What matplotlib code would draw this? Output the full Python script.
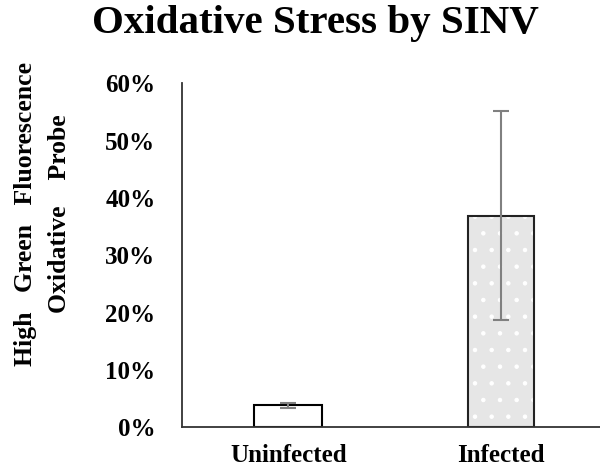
import matplotlib.pyplot as plt
from matplotlib.ticker import PercentFormatter

groups = ['Uninfected', 'Infected']
means = [3.8, 36.9]
errors = [0.45, 18.2]
yticks = [0, 10, 20, 30, 40, 50, 60]

plt.rcParams['font.family'] = 'Liberation Serif'
plt.rcParams['font.weight'] = 'bold'
plt.rcParams['hatch.linewidth'] = 0.8

fig = plt.figure(figsize=(6, 4.71), dpi=100)
ax = fig.add_axes([0.303, 0.093, 0.71, 0.73])

x = list(range(len(groups)))
ax.bar(x[0], means[0], width=0.32, color='white', edgecolor='black', linewidth=1.5)
# dotted fill, then the outline on top
ax.bar(x[1], means[1], width=0.31, color='#e6e6e6', edgecolor='white',
       linewidth=0, hatch='.')
ax.bar(x[1], means[1], width=0.31, color='none', edgecolor='#222222', linewidth=1.5)
ax.errorbar(x, means, yerr=errors, fmt='none', ecolor='#808080',
            elinewidth=1.5, capsize=6, capthick=1.5, zorder=5)

ax.set_xlim(-0.5, 1.5)
ax.set_ylim(0, 60)
ax.set_yticks(yticks)
ax.yaxis.set_major_formatter(PercentFormatter(decimals=0))
ax.set_xticks(x)
ax.set_xticklabels(groups)
ax.tick_params(length=0, labelsize=18)
ax.tick_params(axis='y', pad=19)
ax.tick_params(axis='x', pad=12)

for s in ['top', 'right']:
    ax.spines[s].set_visible(False)
for s in ['left', 'bottom']:
    ax.spines[s].set_color('#333333')
    ax.spines[s].set_linewidth(1.3)

ax.set_ylabel('High   Green   Fluorescence\nOxidative    Probe', fontsize=18.5,
              fontweight='bold', linespacing=1.6)
ax.yaxis.set_label_coords(-0.26, 0.62)
fig.text(0.525, 0.99, 'Oxidative Stress by SINV', fontsize=29.5, fontweight='bold',
         ha='center', va='top')

fig.savefig('out.png')
